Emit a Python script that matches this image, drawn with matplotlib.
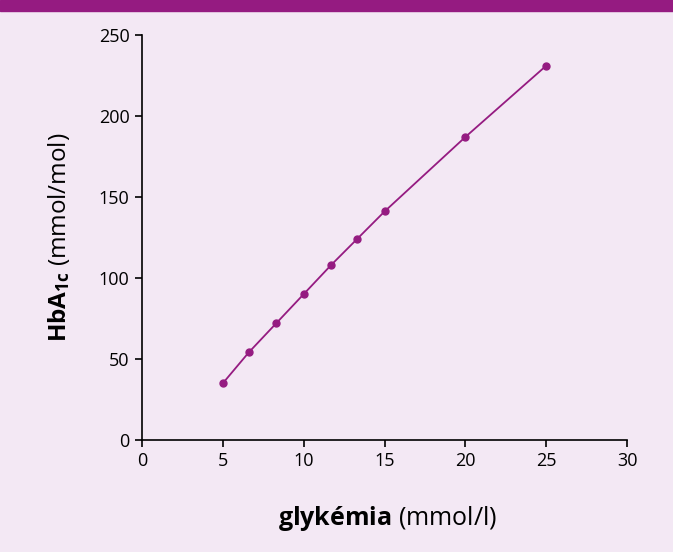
import matplotlib
matplotlib.use("Agg")
import matplotlib.pyplot as plt

# glykémia (mmol/l) vs HbA1c (mmol/mol)
glykemia = [5.0, 6.6, 8.3, 10.0, 11.7, 13.3, 15.0, 20.0, 25.0]
hba1c = [35, 54, 72, 90, 108, 124, 141, 187, 231]

x_ticks = [0, 5, 10, 15, 20, 25, 30]
y_ticks = [0, 50, 100, 150, 200, 250]

purple = "#951b81"
bg = "#f3e8f4"

plt.rcParams["font.family"] = ["Open Sans", "DejaVu Sans"]
plt.rcParams["mathtext.fontset"] = "custom"
plt.rcParams["mathtext.rm"] = "Open Sans"
plt.rcParams["mathtext.it"] = "Open Sans:italic"
plt.rcParams["mathtext.bf"] = "Open Sans:bold"

fig = plt.figure(figsize=(6.73, 5.52), dpi=100, facecolor=bg)
ax = fig.add_axes([0.211, 0.203, 0.721, 0.734])
ax.set_facecolor(bg)

# horní fialový pruh
fig.patches.append(plt.Rectangle((0, 1 - 11 / 552), 1, 11 / 552,
                                 transform=fig.transFigure, color=purple, zorder=0))

ax.plot(glykemia, hba1c, color=purple, lw=1.3, marker="o", ms=5, clip_on=False)

ax.set_xlim(0, 30)
ax.set_ylim(0, 250)
ax.set_xticks(x_ticks)
ax.set_yticks(y_ticks)

for s in ["top", "right"]:
    ax.spines[s].set_visible(False)
for s in ["left", "bottom"]:
    ax.spines[s].set_linewidth(1.2)
ax.tick_params(direction="out", length=5, width=1.2, labelsize=13, pad=4)

ax.set_xlabel(r"$\mathbf{glykémia}$ (mmol/l)", fontsize=18)
ax.set_ylabel(r"$\mathbf{HbA_{1c}}$ (mmol/mol)", fontsize=17.5)
ax.xaxis.set_label_coords(0.505, -0.158)
ax.yaxis.set_label_coords(-0.145, 0.5)

fig.savefig("out.png", dpi=100, facecolor=bg)
